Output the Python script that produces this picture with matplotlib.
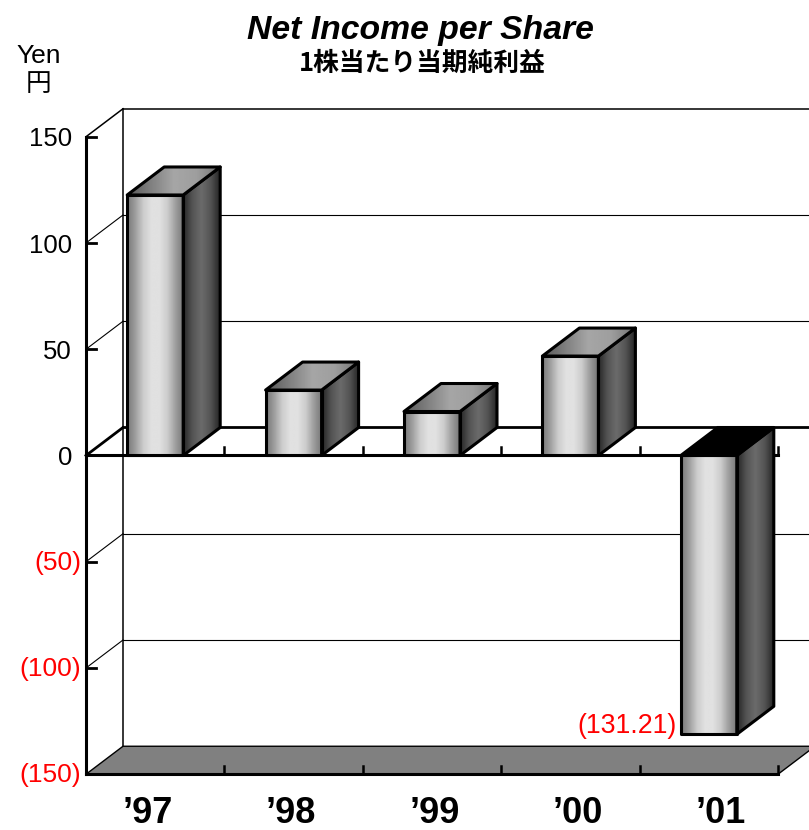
# -*- coding: utf-8 -*-
import numpy as np
import matplotlib
matplotlib.use("Agg")
import matplotlib.pyplot as plt
from matplotlib.patches import Polygon

years = ["\u201997", "\u201998", "\u201999", "\u201900", "\u201901"]
income = [122.6, 30.8, 20.7, 46.8, -131.21]
yticks = [150, 100, 50, 0, -50, -100, -150]
yticklabels = ["150", "100", "50", "0", "(50)", "(100)", "(150)"]

W, H = 809, 830
PX_X = 138.4      # pixels per category
PX_Y = 2.125      # pixels per yen
DX = 37 / PX_X    # depth offset in category units
DY = 28 / PX_Y    # depth offset in yen
BAR = 56 / PX_X
NUM = "Liberation Sans"
CJK = "Noto Sans CJK JP"

fig = plt.figure(figsize=(W / 100, H / 100), dpi=100)
ax = fig.add_axes([0, 0, 1, 1])
ax.axis("off")
xlim = (-86 / PX_X, (W - 86) / PX_X)
ylim = (-(H - 455.5) / PX_Y, 455.5 / PX_Y)
n = len(years)


def line(x, y, lw=1.0, z=2, c="black"):
    ax.plot(x, y, color=c, lw=lw, zorder=z, solid_capstyle="projecting", clip_on=True)


def shaded(pts, stops, z):
    # horizontal grey gradient clipped to a polygon, black outline on top
    xs = [p[0] for p in pts]
    ys = [p[1] for p in pts]
    grad = np.interp(np.linspace(0, 1, 64), np.linspace(0, 1, len(stops)), stops)
    im = ax.imshow(grad[None, :], extent=(min(xs), max(xs), min(ys), max(ys)),
                   cmap="gray", vmin=0, vmax=1, aspect="auto", zorder=z,
                   interpolation="bilinear")
    poly = Polygon(pts, closed=True, fc="none", ec="black", lw=2.2, zorder=z + 0.1,
                   joinstyle="round")
    ax.add_patch(poly)
    im.set_clip_path(poly)


# back wall and grid
top, bot = max(yticks), min(yticks)
line([DX, DX], [bot + DY, top + DY], 1.1)
line([0, DX], [top, top + DY], 1.1)
line([DX, n + DX], [top + DY, top + DY], 1.1)
for v in yticks[1:-1]:
    if v != 0:
        line([0, DX], [v, v + DY], 0.8)
        line([DX, n + DX], [v + DY, v + DY], 0.8)

# floor
ax.add_patch(Polygon([(0, bot), (n, bot), (n + DX, bot + DY), (DX, bot + DY)], closed=True,
                     fc="#808080", ec="black", lw=1.0, zorder=2.5))

# zero plane
line([0, DX], [0, DY], 2.0, 3)
line([DX, n + DX], [DY, DY], 2.0, 3)
line([0, n], [0, 0], 2.2, 3)
line([0, n], [bot, bot], 2.2, 3)

# axis and ticks
line([0, 0], [bot, top], 2.2, 3)
for v in yticks:
    line([0, 10 / PX_X], [v, v], 2.0, 3)
for i in range(1, n + 1):
    line([i, i], [0, 8 / PX_Y], 1.8, 3)
    line([i, i], [bot, bot + 8 / PX_Y], 1.8, 3)

# bars
front_stops = [0.47, 0.62, 0.80, 0.88, 0.88, 0.80, 0.62, 0.47]
side_stops = [0.15, 0.33, 0.42, 0.33, 0.15]
top_stops = [0.35, 0.50, 0.65, 0.62, 0.45]
for i, v in enumerate(income):
    x0 = i + 0.5 - BAR / 2
    x1 = x0 + BAR
    hi = max(v, 0)
    z = 4 + i
    shaded([(x0, 0), (x1, 0), (x1, v), (x0, v)], front_stops, z)
    shaded([(x1, min(v, 0)), (x1 + DX, min(v, 0) + DY), (x1 + DX, hi + DY), (x1, hi)],
           side_stops, z)
    top_pts = [(x0, hi), (x0 + DX, hi + DY), (x1 + DX, hi + DY), (x1, hi)]
    if v < 0:
        ax.add_patch(Polygon(top_pts, closed=True, fc="black", ec="black", lw=2.2, zorder=z + 0.2))
    else:
        shaded(top_pts, top_stops, z + 0.2)

# value label on the loss bar
ax.annotate("(131.21)", xy=(4.5 - BAR / 2, income[4]), xytext=(-4, 8), textcoords="offset pixels",
            ha="right", va="center", color="red", fontsize=19.3, family=NUM, zorder=12)

# tick labels
for v, s in zip(yticks, yticklabels):
    if v < 0:
        ax.text(-5 / PX_X, v - 1 / PX_Y, s, ha="right", va="center", color="red",
                fontsize=19, family=NUM)
    else:
        ax.text(-14 / PX_X, v - 2.5 / PX_Y, s, ha="right", va="center", color="black",
                fontsize=18.5, family=NUM)
for i, s in enumerate(years):
    ax.text((62 + 143.2 * i) / PX_X, -(823 - 455.5) / PX_Y, s, ha="center", va="baseline",
            fontsize=26, fontweight="bold", family=["Liberation Sans Narrow", NUM])

# titles
fig.text(420 / W, 1 - 31 / H, "Net Income per Share", ha="center", va="center", fontsize=24.3,
         fontweight="bold", fontstyle="italic", family=NUM)
fig.text(422 / W, 1 - 63 / H, "1株当たり当期純利益", ha="center", va="center", fontsize=18.5,
         fontweight="bold", family=CJK)
fig.text(39 / W, 1 - 56 / H, "Yen", ha="center", va="center", fontsize=19, family=NUM)
fig.text(39 / W, 1 - 84 / H, "円", ha="center", va="center", fontsize=18.5, family=CJK)

ax.set_xlim(*xlim)
ax.set_ylim(*ylim)
fig.savefig("out.png", dpi=100, facecolor="white")
